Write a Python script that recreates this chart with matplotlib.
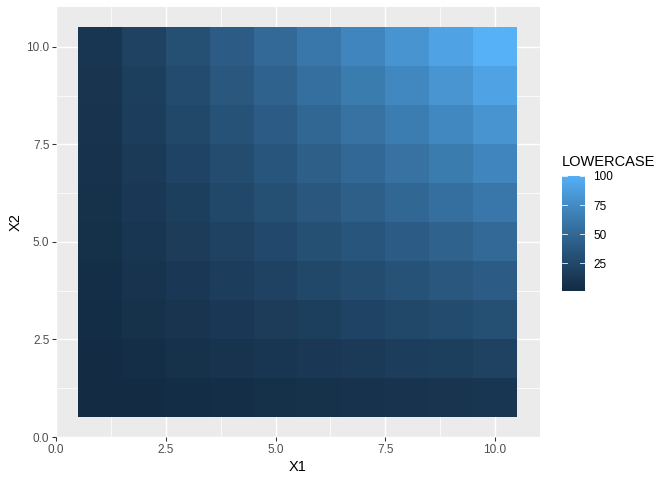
import matplotlib
matplotlib.use("Agg")
import matplotlib.pyplot as plt
import numpy as np
from matplotlib.colors import ListedColormap

plt.rcParams['font.family'] = ['Liberation Sans', 'DejaVu Sans']

# tile grid: columns X1, rows X2, value LOWERCASE
x1 = [1, 2, 3, 4, 5, 6, 7, 8, 9, 10]
x2 = [1, 2, 3, 4, 5, 6, 7, 8, 9, 10]
lowercase = [
    [1, 2, 3, 4, 5, 6, 7, 8, 9, 10],
    [2, 4, 6, 8, 10, 12, 14, 16, 18, 20],
    [3, 6, 9, 12, 15, 18, 21, 24, 27, 30],
    [4, 8, 12, 16, 20, 24, 28, 32, 36, 40],
    [5, 10, 15, 20, 25, 30, 35, 40, 45, 50],
    [6, 12, 18, 24, 30, 36, 42, 48, 54, 60],
    [7, 14, 21, 28, 35, 42, 49, 56, 63, 70],
    [8, 16, 24, 32, 40, 48, 56, 64, 72, 80],
    [9, 18, 27, 36, 45, 54, 63, 72, 81, 90],
    [10, 20, 30, 40, 50, 60, 70, 80, 90, 100],
]  # rows follow x2
tick_vals = [0, 2.5, 5, 7.5, 10]
tick_labels = ['0.0', '2.5', '5.0', '7.5', '10.0']
legend_ticks = [25, 50, 75, 100]


# ggplot's default gradient interpolates in CIELAB
def to_lab(hexc):
    rgb = np.array([int(hexc[i:i + 2], 16) / 255 for i in (1, 3, 5)])
    lin = np.where(rgb <= 0.04045, rgb / 12.92, ((rgb + 0.055) / 1.055) ** 2.4)
    m = np.array([[0.4124, 0.3576, 0.1805],
                  [0.2126, 0.7152, 0.0722],
                  [0.0193, 0.1192, 0.9505]])
    xyz = m @ lin / np.array([0.95047, 1.0, 1.08883])
    f = np.where(xyz > 0.008856, np.cbrt(xyz), 7.787 * xyz + 16 / 116)
    return np.array([116 * f[1] - 16, 500 * (f[0] - f[1]), 200 * (f[1] - f[2])])


def from_lab(lab):
    fy = (lab[1 - 1] + 16) / 116
    fx = fy + lab[1] / 500
    fz = fy - lab[2] / 200
    f = np.array([fx, fy, fz])
    xyz = np.where(f ** 3 > 0.008856, f ** 3, (f - 16 / 116) / 7.787)
    xyz = xyz * np.array([0.95047, 1.0, 1.08883])
    minv = np.array([[3.2406, -1.5372, -0.4986],
                     [-0.9689, 1.8758, 0.0415],
                     [0.0557, -0.2040, 1.0570]])
    lin = minv @ xyz
    rgb = np.where(lin <= 0.0031308, 12.92 * lin, 1.055 * np.clip(lin, 0, None) ** (1 / 2.4) - 0.055)
    return np.clip(rgb, 0, 1)


lo, hi = to_lab('#132B43'), to_lab('#56B1F7')
cmap = ListedColormap([from_lab(lo + (hi - lo) * t) for t in np.linspace(0, 1, 256)])

fig = plt.figure(figsize=(7, 5), dpi=96)
W, H = 672, 480
ax = fig.add_axes([56 / W, 1 - 437 / H, (540 - 56) / W, (437 - 7) / H])
ax.set_facecolor('#EBEBEB')

edges_x = np.append(np.array(x1) - 0.5, x1[-1] + 0.5)
edges_y = np.append(np.array(x2) - 0.5, x2[-1] + 0.5)
vals = np.array(lowercase)
vmin, vmax = vals.min(), vals.max()
ax.pcolormesh(edges_x, edges_y, vals, cmap=cmap, vmin=vmin, vmax=vmax, zorder=2)

ax.set_xlim(0, 11.025)
ax.set_ylim(0, 11.025)
ax.set_xticks(tick_vals)
ax.set_xticklabels(tick_labels)
ax.set_yticks(tick_vals)
ax.set_yticklabels(tick_labels)
ax.set_xticks([1.25, 3.75, 6.25, 8.75], minor=True)
ax.set_yticks([1.25, 3.75, 6.25, 8.75], minor=True)
ax.grid(which='major', color='white', linewidth=1.07, zorder=0)
ax.grid(which='minor', color='white', linewidth=0.53, zorder=0)
ax.set_axisbelow(True)
for s in ax.spines.values():
    s.set_visible(False)
ax.tick_params(which='major', length=2.75, width=0.8, color='#333333',
               labelsize=8.8, labelcolor='#4D4D4D', pad=2.2)
ax.tick_params(which='minor', length=0)
ax.set_xlabel('X1', fontsize=11, labelpad=3)
ax.set_ylabel('X2', fontsize=11, labelpad=3)

# colour bar
cax = fig.add_axes([562 / W, 1 - 291 / H, 23 / W, (291 - 176) / H])
grad = np.linspace(vmin, vmax, 256).reshape(-1, 1)
cax.imshow(grad, cmap=cmap, aspect='auto', origin='lower',
           extent=[0, 1, vmin, vmax], vmin=vmin, vmax=vmax)
cax.set_xlim(0, 1)
cax.set_ylim(vmin, vmax)
for t in legend_ticks:
    cax.plot([0, 0.2], [t, t], color='white', lw=0.6)
    cax.plot([0.8, 1], [t, t], color='white', lw=0.6)
cax.set_xticks([])
cax.set_yticks(legend_ticks)
cax.yaxis.tick_right()
cax.tick_params(length=0, labelsize=8.8, pad=6)
for s in cax.spines.values():
    s.set_visible(False)
fig.text(562 / W, 1 - 162 / H, 'LOWERCASE', fontsize=11, ha='left', va='center')

fig.savefig('out.png', dpi=96)
